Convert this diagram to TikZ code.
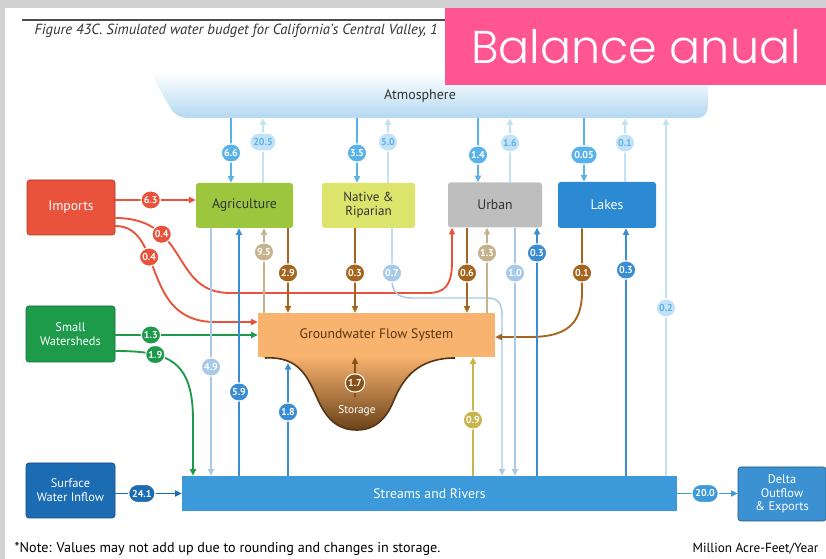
\documentclass[tikz,border=0pt]{standalone}
\usepackage{fontspec}
\setmainfont{PT Sans}
\newfontfamily\bannerfont{Poppins Light}
\usetikzlibrary{arrows.meta,shapes.misc}

\definecolor{framegray}{HTML}{D2D2D2}
\definecolor{bannerpink}{HTML}{FF5590}
\definecolor{atmblue}{HTML}{B3D9F1}
\definecolor{impred}{HTML}{E9523B}
\definecolor{agrigreen}{HTML}{9CC63E}
\definecolor{ripyellow}{HTML}{DCE46C}
\definecolor{urbgray}{HTML}{BEBEBE}
\definecolor{lakeblue}{HTML}{2B8AD2}
\definecolor{swgreen}{HTML}{1E9A4B}
\definecolor{swiblue}{HTML}{1C6CB3}
\definecolor{strblue}{HTML}{3C9ADA}
\definecolor{deltablue}{HTML}{3B91D2}
\definecolor{gworange}{HTML}{F8B36F}
\definecolor{stordark}{HTML}{6A4219}
\definecolor{skyin}{HTML}{5AB3E8}
\definecolor{skyout}{HTML}{C4E2F6}
\definecolor{tostream}{HTML}{A8C9E8}
\definecolor{upblue}{HTML}{3A8DD2}
\definecolor{soilbrown}{HTML}{A6651F}
\definecolor{pumptan}{HTML}{C6B38E}
\definecolor{rechgold}{HTML}{CAB44E}
\definecolor{gwtext}{HTML}{5A3612}

\tikzset{
  box/.style={rounded corners=2pt, fill=#1, align=center, inner sep=1pt,
    font=\fontsize{10.3}{11}\selectfont},
  wd/.style={minimum width=#1*0.75pt},
  ht/.style={minimum height=#1*0.75pt},
  badge/.style={rounded rectangle, fill=#1, draw=white, line width=0.8pt, text=white,
    inner xsep=2pt, inner ysep=0pt, minimum height=13.5pt, minimum width=18.5pt,
    font=\bfseries\fontsize{7.5}{8}\selectfont},
  flow/.style={draw=#1, line width=1.4pt, -{Triangle[length=5pt,width=4.6pt]}},
}

\begin{document}
\begin{tikzpicture}[x=0.75pt,y=-0.75pt]
  \fill[framegray] (0,0) rectangle (826,559);
  \fill[white] (5,8) rectangle (826,559);
  \useasboundingbox (0,0) rectangle (826,559);

  \draw[line width=1pt, black!70] (22,20) -- (826,20);
  \node[anchor=west, font=\itshape\fontsize{11}{12}\selectfont, text=black!80] (title) at (30,31)
    {Figure 43C. Simulated water budget for California's Central Valley, 1};

  % atmosphere
  \shade[top color=white, bottom color=atmblue, rounded corners=8pt]
    (150,72) -- (708,72) -- (708,118) -- (176,118) -- cycle;
  \node[font=\fontsize{10.5}{12}\selectfont, text=black!80, minimum height=33pt] (atm) at (420,96) {Atmosphere};

  % boxes
  \node[box=impred, draw=impred!70!black, text=white, wd=88, ht=55] (imports) at (71,207.5) {Imports};
  \node[box=agrigreen, text=black!80, wd=97, ht=45] (agri) at (244.5,205.5) {Agriculture};
  \node[box=ripyellow, text=black!80, wd=93, ht=45, font=\fontsize{9.8}{10.5}\selectfont] (native) at (368.5,205.5) {Native \&\\Riparian};
  \node[box=urbgray, text=black!80, wd=94, ht=45] (urban) at (495,205) {Urban};
  \node[box=lakeblue, text=white, wd=98, ht=46] (lakes) at (607,205) {Lakes};
  \node[box=swgreen, draw=swgreen!70!black, text=white, wd=89, ht=56, font=\fontsize{9.3}{10.5}\selectfont] (sw) at (70.5,334) {Small\\Watersheds};
  \node[box=swiblue, draw=swiblue!70!black, text=white, wd=89, ht=55, font=\fontsize{9.3}{10.5}\selectfont] (swi) at (70.5,490.5) {Surface\\Water Inflow};
  \node[box=strblue, text=white, wd=495, ht=35, rounded corners=0pt] (streams) at (429.5,493.5) {Streams and Rivers};
  \node[box=deltablue, draw=deltablue!60!black, text=white, wd=88, ht=54, font=\fontsize{9.3}{10}\selectfont] (delta) at (782,494) {Delta\\Outflow\\\& Exports};
  \node[box=gworange, text=gwtext, wd=237, ht=44, rounded corners=0pt] (gw) at (376.5,335) {Groundwater Flow System};

  % storage bowl
  \shade[top color=gworange, bottom color=stordark]
    (262,357) -- (265,358) .. controls (300,356) and (308,378) .. (318,400)
    .. controls (328,422) and (340,430) .. (357,430)
    .. controls (374,430) and (386,420) .. (394,400)
    .. controls (404,376) and (420,358) .. (455,358) -- (455,357) -- cycle;
  \draw[line width=1.2pt, stordark!80!black]
    (265,358) .. controls (300,356) and (308,378) .. (318,400)
    .. controls (328,422) and (340,430) .. (357,430)
    .. controls (374,430) and (386,420) .. (394,400)
    .. controls (404,376) and (420,358) .. (455,358);
  \node[text=white, font=\fontsize{8.5}{9}\selectfont] (storlbl) at (357,411) {Storage};
  \coordinate (storbase) at (355,397);
  \draw[flow=soilbrown!80!black] (storbase) -- (gw.south -| storbase);
  \node[badge=soilbrown!80!black] (b17) at (355,383) {1.7};

  % imports, small watersheds, inflow and outflow
  \draw[flow=impred] (imports.east |- 0,200) -- (agri.west |- 0,200)
    node[badge=impred, pos=.44] (b63) {6.3};
  \draw[flow=impred] (imports.east |- 0,218) .. controls (190,218) and (170,293) .. (230,293)
    node[badge=impred, pos=.3] (b04u) {0.4}
    -- (428,293) .. controls (445,293) and (452,285) .. (452,262) -- (urban.south -| 452,0);
  \draw[flow=impred] (imports.east |- 0,226) .. controls (165,226) and (140,322) .. (215,322)
    node[badge=impred, pos=.38] (b04g) {0.4} -- (gw.west |- 0,322);
  \draw[flow=swgreen] (sw.east |- 0,335) -- (gw.west |- 0,335)
    node[badge=swgreen, pos=.25] (b13) {1.3};
  \draw[flow=swgreen] (sw.east |- 0,351) .. controls (168,351) and (193,360) .. (193,420)
    node[badge=swgreen, pos=.3] (b19) {1.9} -- (streams.north -| 193,0);
  \draw[flow=swiblue] (swi.east |- streams) -- (streams.west)
    node[badge=swiblue, pos=.4] (b241) {24.1};
  \draw[flow=strblue] (streams.east) -- (streams.east -| delta.west)
    node[badge=strblue, pos=.46] (b200) {20.0};

  % native and lakes outflows with bends
  \draw[flow=tostream, line width=1.1pt] (native.south -| 392,0) -- (392,280)
    .. controls (392,292) and (398,298) .. (412,298) -- (488,298)
    .. controls (498,298) and (502,304) .. (502,315) -- (streams.north -| 502,0);
  \node[badge=tostream] (b07) at (392,273) {0.7};
  \draw[flow=soilbrown] (lakes.south -| 582,0) -- (582,292)
    .. controls (582,325) and (565,337) .. (530,337) -- (gw.east |- 0,337);
  \node[badge=soilbrown] (b01) at (582,273) {0.1};

  % downward flows
  \foreach \a/\b/\x/\c/\v/\y in {atm/agri/231/skyin/6.6/153, atm/native/357/skyin/3.5/153,
      atm/urban/478/skyin/1.4/155, atm/lakes/584/skyin/0.05/155,
      agri/streams/211/tostream/4.9/367, agri/gw/288/soilbrown/2.9/273,
      native/gw/355/soilbrown/0.3/273, urban/gw/467/soilbrown/0.6/273,
      urban/streams/515/tostream/1.0/273}
  {
    \draw[flow=\c, line width=1.2pt] (\a.south -| \x,0) -- (\b.north -| \x,0);
    \node[badge=\c] (d\x) at (\x,\y) {\v};
  }

  % upward flows
  \foreach \a/\b/\x/\c/\v/\y in {streams/agri/239/upblue/5.9/392, gw/agri/264/pumptan/9.5/252,
      gw/urban/487/pumptan/1.3/253, streams/urban/537/upblue/0.3/253,
      streams/lakes/626/upblue/0.3/270, streams/gw/473/rechgold/0.9/420}
  {
    \draw[flow=\c, line width=1.2pt] (\a.north -| \x,0) -- (\b.south -| \x,0);
    \node[badge=\c] (u\x) at (\x,\y) {\v};
  }
  \coordinate (rim) at (288,363);
  \draw[flow=upblue, line width=1.2pt] (streams.north -| rim) -- (rim);
  \node[badge=upblue] (u288) at (288,412) {1.8};

  % back to the atmosphere
  \foreach \a/\x/\v/\y in {agri/263/20.5/142, native/388/5.0/142, urban/510/1.6/143,
      lakes/625/0.1/143, streams/666/0.2/308}
  {
    \draw[flow=skyout, line width=1.1pt] (\a.north -| \x,0) -- (atm.south -| \x,0);
    \node[badge=skyout, text=skyin] (e\x) at (\x,\y) {\v};
  }

  % banner and notes
  \fill[bannerpink] (445,8) rectangle (826,85);
  \node[text=white, font=\bannerfont\fontsize{34.5}{38}\selectfont] (banner) at (636,47) {Balance anual};
  \node[anchor=west, font=\fontsize{10.6}{11}\selectfont] (note) at (10,549)
    {*Note: Values may not add up due to rounding and changes in storage.};
  \node[anchor=east, font=\fontsize{9.9}{11}\selectfont] (unit) at (823,549) {Million Acre-Feet/Year};
\end{tikzpicture}
\end{document}
